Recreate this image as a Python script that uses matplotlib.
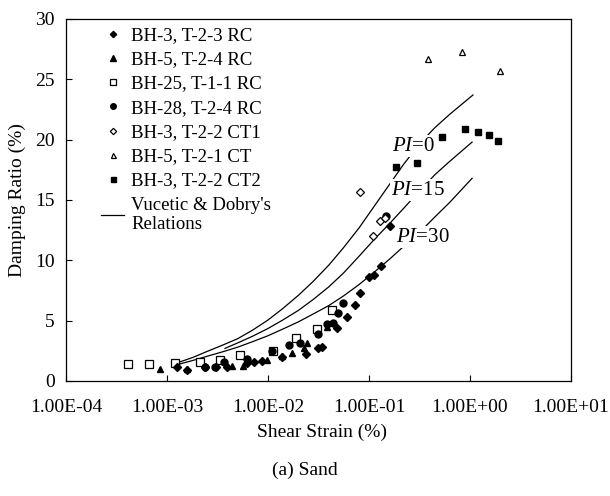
import matplotlib
matplotlib.use("Agg")
import matplotlib.pyplot as plt
from matplotlib.ticker import FixedLocator, FixedFormatter, NullLocator

plt.rcParams['font.family'] = ['Liberation Serif', 'DejaVu Serif']
plt.rcParams['mathtext.fontset'] = 'custom'
plt.rcParams['mathtext.it'] = 'Liberation Serif:italic'
plt.rcParams['mathtext.rm'] = 'Liberation Serif'

# test data (strain %, damping %)
bh3_rc_x = [1.26e-3, 1.58e-3, 2.38e-3, 3.06e-3, 3.93e-3, 6.2e-3, 7.26e-3, 8.7e-3, 1.38e-2,
            2.38e-2, 3.13e-2, 3.43e-2, 4.82e-2, 6.05e-2, 7.26e-2, 8.15e-2, 0.100, 0.112, 0.131, 0.161]
bh3_rc_y = [1.16, 0.91, 1.16, 1.16, 1.16, 1.49, 1.57, 1.66, 1.99,
            2.24, 2.73, 2.82, 4.39, 5.30, 6.30, 7.29, 8.62, 8.78, 9.53, 12.84]

bh5_rc_x = [8.5e-4, 1.58e-3, 4.4e-3, 5.65e-3, 9.8e-3, 1.38e-2, 1.73e-2, 2.27e-2, 2.43e-2, 3.84e-2]
bh5_rc_y = [0.99, 0.99, 1.24, 1.24, 1.74, 2.07, 2.32, 2.73, 3.15, 4.47]

bh25_rc_x = [4.1e-4, 6.6e-4, 1.2e-3, 2.12e-3, 3.35e-3, 5.28e-3, 1.12e-2, 1.89e-2, 3.05e-2, 4.3e-2]
bh25_rc_y = [1.41, 1.41, 1.49, 1.57, 1.74, 2.15, 2.49, 3.56, 4.31, 5.88]

bh28_rc_x = [2.38e-3, 2.99e-3, 3.66e-3, 6.2e-3, 1.09e-2, 1.61e-2, 2.07e-2, 3.13e-2,
             3.84e-2, 4.4e-2, 4.96e-2, 5.5e-2, 0.148]
bh28_rc_y = [1.16, 1.16, 1.57, 1.82, 2.49, 2.98, 3.15, 3.89,
             4.72, 4.81, 5.63, 6.46, 13.67]

bh3_ct1_x = [0.081, 0.110, 0.128, 0.144]
bh3_ct1_y = [15.7, 12.0, 13.25, 13.5]

bh5_ct_x = [0.38, 0.83, 1.98]
bh5_ct_y = [26.7, 27.3, 25.7]

bh3_ct2_x = [0.185, 0.30, 0.53, 0.89, 1.2, 1.54, 1.89]
bh3_ct2_y = [17.7, 18.06, 20.2, 20.85, 20.6, 20.4, 19.9]

# Vucetic & Dobry curves
pi0_x = [1.26e-3, 1.8e-3, 2.5e-3, 3.5e-3, 5.0e-3, 7.0e-3, 1.0e-2, 1.4e-2, 2.0e-2, 2.8e-2, 4.0e-2,
         5.6e-2, 8.0e-2, 0.112, 0.16, 0.22, 0.32, 0.45, 0.63, 1.07]
pi0_y = [1.50, 1.95, 2.45, 2.95, 3.50, 4.20, 5.05, 6.00, 7.10, 8.25, 9.60,
         11.05, 12.70, 14.45, 16.30, 17.95, 19.70, 21.00, 22.10, 23.70]
pi15_x = [3.75e-3, 5.0e-3, 7.0e-3, 1.0e-2, 1.4e-2, 2.0e-2, 2.8e-2, 4.0e-2, 5.6e-2, 8.0e-2,
          0.112, 0.16, 0.22, 0.32, 0.45, 0.63, 1.05]
pi15_y = [2.70, 3.15, 3.70, 4.35, 5.05, 5.85, 6.75, 7.80, 8.95, 10.35,
          11.70, 13.05, 14.30, 15.80, 17.10, 18.20, 19.80]
pi30_x = [1.26e-3, 1.8e-3, 2.5e-3, 3.5e-3, 5.0e-3, 7.0e-3, 1.0e-2, 1.4e-2, 2.0e-2, 2.8e-2, 4.0e-2,
          5.6e-2, 8.0e-2, 0.112, 0.16, 0.22, 0.32, 0.45, 0.63, 1.05]
pi30_y = [1.35, 1.70, 2.05, 2.40, 2.80, 3.25, 3.75, 4.30, 4.90, 5.55, 6.25,
          7.05, 8.00, 9.00, 10.10, 11.15, 12.35, 13.60, 14.80, 16.80]

xticks = [1e-4, 1e-3, 1e-2, 1e-1, 1e0, 1e1]
xtick_labels = ['1.00E-04', '1.00E-03', '1.00E-02', '1.00E-01', '1.00E+00', '1.00E+01']
yticks = [0, 5, 10, 15, 20, 25, 30]

fig = plt.figure(figsize=(6.10, 4.96), dpi=100)
ax = fig.add_axes([0.1082, 0.2319, 0.8278, 0.7298])

ax.plot(bh3_rc_x, bh3_rc_y, 'D', color='black', ms=4, label='BH-3, T-2-3 RC', zorder=4)
ax.plot(bh5_rc_x, bh5_rc_y, '^', color='black', ms=5, label='BH-5, T-2-4 RC', zorder=4)
ax.plot(bh25_rc_x, bh25_rc_y, 's', mfc='white', mec='black', mew=0.9, ms=5.5,
        label='BH-25, T-1-1 RC', zorder=3)
ax.plot(bh28_rc_x, bh28_rc_y, 'o', color='black', ms=5, label='BH-28, T-2-4 RC', zorder=4)
ax.plot(bh3_ct1_x, bh3_ct1_y, 'D', mfc='white', mec='black', mew=0.9, ms=4,
        label='BH-3, T-2-2 CT1', zorder=4)
ax.plot(bh5_ct_x, bh5_ct_y, '^', mfc='white', mec='black', mew=0.9, ms=4.5,
        label='BH-5, T-2-1 CT', zorder=4)
ax.plot(bh3_ct2_x, bh3_ct2_y, 's', color='black', ms=4.5, label='BH-3, T-2-2 CT2', zorder=4)

ax.plot(pi0_x, pi0_y, '-', color='black', lw=0.9, label="Vucetic & Dobry's\nRelations", zorder=2)
ax.plot(pi15_x, pi15_y, '-', color='black', lw=0.9, zorder=2)
ax.plot(pi30_x, pi30_y, '-', color='black', lw=0.9, zorder=2)

box = dict(facecolor='white', edgecolor='none', pad=1.0)
ax.text(0.279, 19.47, r'$\mathit{PI}$=0', fontsize=15, ha='center', va='center', bbox=box, zorder=3)
ax.text(0.305, 15.82, r'$\mathit{PI}$=15', fontsize=15, ha='center', va='center', bbox=box, zorder=3)
ax.text(0.343, 11.93, r'$\mathit{PI}$=30', fontsize=15, ha='center', va='center', bbox=box, zorder=3)

ax.set_xscale('log')
ax.set_xlim(1e-4, 1e1)
ax.set_ylim(0, 30)
ax.xaxis.set_major_locator(FixedLocator(xticks))
ax.xaxis.set_major_formatter(FixedFormatter(xtick_labels))
ax.xaxis.set_minor_locator(NullLocator())
ax.set_yticks(yticks)
ax.tick_params(direction='in', length=4, width=0.8, labelsize=14)
ax.tick_params(axis='x', pad=13)
ax.tick_params(axis='y', pad=8)
for s in ax.spines.values():
    s.set_linewidth(0.9)

ax.legend(loc='upper left', bbox_to_anchor=(0.07, 0.978), frameon=False, fontsize=13.5,
          handlelength=1.2, handletextpad=0.4, labelspacing=0.38, borderpad=0,
          borderaxespad=0, markerscale=0.8)

fig.text(17 / 610, 1 - 200 / 496, 'Damping Ratio (%)', rotation=90, ha='center', va='center', fontsize=14)
fig.text(322 / 610, 1 - 432 / 496, 'Shear Strain (%)', ha='center', va='center', fontsize=14)
fig.text(305 / 610, 1 - 470 / 496, '(a) Sand', ha='center', va='center', fontsize=14)

fig.savefig('out.png', dpi=100)
